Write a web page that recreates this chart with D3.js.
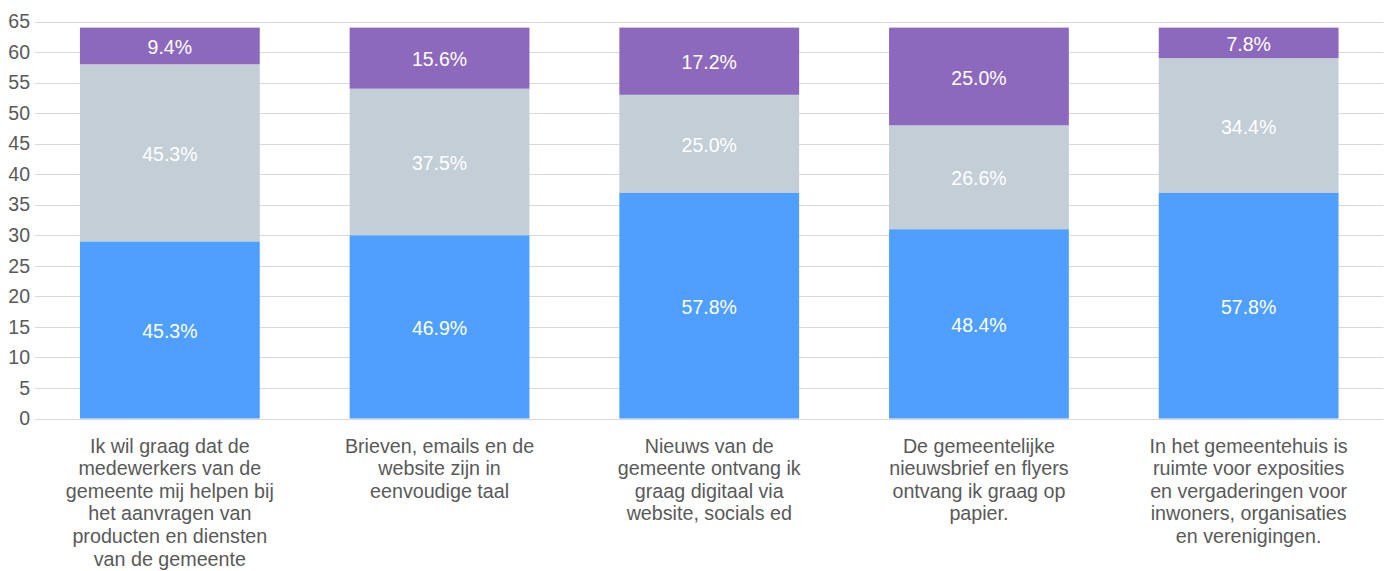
<!DOCTYPE html>
<html><head><meta charset="utf-8">
<script src="https://cdn.jsdelivr.net/npm/d3@7"></script>
<style>body{margin:0;background:#fff}svg{display:block;font-family:"Liberation Sans",Arial,sans-serif}</style>
</head><body><svg id="c" width="1391" height="571"></svg>
<script>
const categories = [
  ["Ik wil graag dat de","medewerkers van de","gemeente mij helpen bij","het aanvragen van","producten en diensten","van de gemeente"],
  ["Brieven, emails en de","website zijn in","eenvoudige taal"],
  ["Nieuws van de","gemeente ontvang ik","graag digitaal via","website, socials ed"],
  ["De gemeentelijke","nieuwsbrief en flyers","ontvang ik graag op","papier."],
  ["In het gemeentehuis is","ruimte voor exposities","en vergaderingen voor","inwoners, organisaties","en verenigingen."]
];
const seriesBlue = [29, 30, 37, 31, 37];
const seriesGrey = [29, 24, 16, 17, 22];
const seriesPurple = [6, 10, 11, 16, 5];
const yTicks = [0,5,10,15,20,25,30,35,40,45,50,55,60,65];
const colors = ["#4f9fff", "#c4ced7", "#8d69bd"];

const svg = d3.select("#c");
const mLeft = 35, mRight = 1383.5, mTop = 21.5, mBottom = 418.5;
const idx = d3.range(categories.length);
const x = d3.scaleBand().domain(idx).range([mLeft, mRight]).paddingInner(1/3).paddingOuter(1/6);
const y = d3.scaleLinear().domain([0, 65]).range([mBottom, mTop]);

// gridlines
svg.append("g").selectAll("line").data(yTicks).join("line")
  .attr("x1", mLeft).attr("x2", mRight)
  .attr("y1", d => Math.round(y(d)) + 0.5).attr("y2", d => Math.round(y(d)) + 0.5)
  .attr("stroke", "#d9d9d9").attr("stroke-width", 1);

// y axis labels
const yAxis = d3.axisLeft(y).tickValues(yTicks).tickSize(0).tickPadding(0);
const ga = svg.append("g").attr("transform", `translate(${mLeft - 5},0)`).call(yAxis);
ga.select(".domain").remove();
ga.selectAll("text").attr("font-size", 19.5).attr("fill", "#595959").attr("font-family", '"Liberation Sans",Arial,sans-serif');

const rows = idx.map(i => ({i, blue: seriesBlue[i], grey: seriesGrey[i], purple: seriesPurple[i]}));
const stack = d3.stack().keys(["blue","grey","purple"])(rows);
const totals = idx.map(i => seriesBlue[i] + seriesGrey[i] + seriesPurple[i]);

stack.forEach((layer, k) => {
  const g = svg.append("g");
  g.selectAll("rect").data(layer).join("rect")
    .attr("x", d => x(d.data.i)).attr("width", x.bandwidth())
    .attr("y", d => y(d[1])).attr("height", d => y(d[0]) - y(d[1]))
    .attr("fill", colors[k]);
  g.selectAll("text").data(layer).join("text")
    .attr("x", d => x(d.data.i) + x.bandwidth() / 2)
    .attr("y", d => (y(d[0]) + y(d[1])) / 2)
    .attr("dy", "0.42em")
    .attr("text-anchor", "middle").attr("font-size", 19.5).attr("fill", "#fff")
    .text(d => ((d[1] - d[0]) / totals[d.data.i] * 100).toFixed(1) + "%");
});

// category labels
const gc = svg.append("g");
idx.forEach(i => {
  const t = gc.append("text").attr("text-anchor", "middle").attr("font-size", 19.7).attr("fill", "#595959");
  categories[i].forEach((line, j) => {
    t.append("tspan").attr("x", x(i) + x.bandwidth() / 2).attr("y", 452.5 + j * 22.6).text(line);
  });
});
</script></body></html>
